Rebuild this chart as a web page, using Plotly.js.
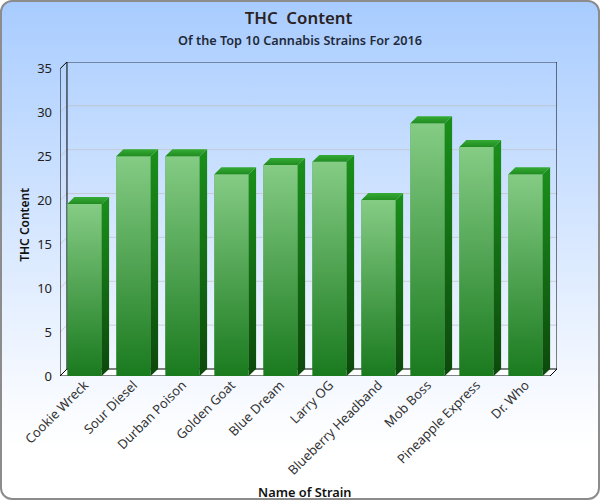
<!DOCTYPE html>
<html><head><meta charset="utf-8">
<script src="https://cdn.plot.ly/plotly-3.0.1.min.js"></script>
<style>
html,body{margin:0;padding:0;background:#fff}
#chart{position:absolute;left:0;top:0;width:600px;height:500px;box-sizing:border-box;
border:2px solid #8c8c8c;border-radius:12px;overflow:hidden;
background:linear-gradient(to bottom,#a8ccff 0%,#f4f8ff 76%,#ffffff 90%)}
#plot{position:absolute;left:-2px;top:-2px;width:600px;height:500px}
</style></head><body>
<div id="chart"><div id="plot"></div></div>
<script>
const strains=["Cookie Wreck","Sour Diesel","Durban Poison","Golden Goat","Blue Dream","Larry OG","Blueberry Headband","Mob Boss","Pineapple Express","Dr. Who"];
const thc=[19.6,25.05,25.05,23,24.05,24.4,20.05,28.8,26.1,23];
const yTicks=[0,5,10,15,20,25,30,35];
const DX=0.1425,DY=0.796,BW=0.7,BDX=0.152;
const xs=strains.map((_,i)=>i);
const base={mode:'lines',hoverinfo:'skip',showlegend:false};
const traces=[];
traces.push({type:'bar',x:xs,y:thc,width:BW,marker:{color:'#4fa34f',line:{width:0}},hoverinfo:'x+y',showlegend:false});
const L=-0.5,R=9.5;
traces.push({...base,x:[L,L+DX,R+DX,R,L],y:[0,DY,DY,0,0],fill:'toself',fillcolor:'rgba(255,255,255,0.9)',line:{width:0}});
yTicks.slice(1,-1).forEach(t=>traces.push({...base,x:[L,L+DX,R+DX],y:[t,t+DY,t+DY],line:{color:'rgba(190,190,190,0.65)',width:1}}));
const frame=(x,y)=>traces.push({...base,x,y,line:{color:'#000',width:1}});
frame([L,L,L+DX,R+DX,R+DX,R,L,L+DX,R+DX],[0,35,35+DY,35+DY,DY,0,0,DY,DY]);
frame([L+DX,L+DX],[DY,35+DY]);
thc.forEach((v,i)=>{
  const a=i-BW/2,b=i+BW/2;
  traces.push({...base,x:[a,b,b,a,a],y:[0,0,v,v,0],fill:'toself',line:{width:0},
    fillgradient:{type:'vertical',colorscale:[[0,'#1a7a1e'],[1,'#85cc85']]}});
  traces.push({...base,x:[b,b+BDX,b+BDX,b,b],y:[0,DY,v+DY,v,0],fill:'toself',line:{width:0},
    fillgradient:{type:'vertical',colorscale:[[0,'#0c480c'],[1,'#1a901a']]}});
  traces.push({...base,x:[a,b,b+BDX,a+DX,a],y:[v,v,v+DY,v+DY,v],fill:'toself',line:{width:0},
    fillgradient:{type:'vertical',colorscale:[[0,'#208c20'],[1,'#35ab35']]}});
});
const F='"Noto Sans","Open Sans",sans-serif';
const semi=(size,color)=>({family:F,size,color,weight:600});
const layout={
  width:600,height:500,autosize:false,
  paper_bgcolor:'rgba(0,0,0,0)',plot_bgcolor:'rgba(0,0,0,0)',
  margin:{l:59.5,r:42.7,t:61.5,b:124,pad:0},
  showlegend:false,barmode:'overlay',
  title:{text:'THC\u00A0 Content',x:0.4975,xanchor:'center',y:0.9635,yanchor:'middle',font:semi(16.8,'#2a2222')},
  xaxis:{range:[L,R+DX],tickmode:'array',tickvals:xs,ticktext:strains,tickangle:-45,
    showgrid:false,zeroline:false,showline:false,ticks:'',ticklabelstandoff:-2,
    tickfont:{family:F,size:13,color:'#333'},automargin:false,fixedrange:true},
  yaxis:{range:[0,35.78],tickmode:'array',tickvals:yTicks,ticktext:yTicks.map(String),
    showgrid:false,zeroline:false,showline:false,ticks:'',ticklabelstandoff:7,
    tickfont:{family:F,size:13,color:'#222'},automargin:false,fixedrange:true},
  annotations:[
    {text:'Of the Top 10 Cannabis Strains For 2016',xref:'paper',yref:'paper',x:(300-59.5)/497.8,xanchor:'center',y:(376-39.5)/314.5,yanchor:'middle',showarrow:false,font:semi(12.7,'#222a3a')},
    {text:'Name of Strain',xref:'paper',yref:'paper',x:(305-59.5)/497.8,xanchor:'center',y:(376-492)/314.5,yanchor:'middle',showarrow:false,font:semi(12.8,'#111')},
    {text:'THC Content',xref:'paper',yref:'paper',x:(24-59.5)/497.8,xanchor:'center',y:(376-225)/314.5,yanchor:'middle',textangle:-90,showarrow:false,font:semi(12,'#111')}
  ]
};
Plotly.newPlot('plot',traces,layout,{displayModeBar:false,staticPlot:true});
</script></body></html>
